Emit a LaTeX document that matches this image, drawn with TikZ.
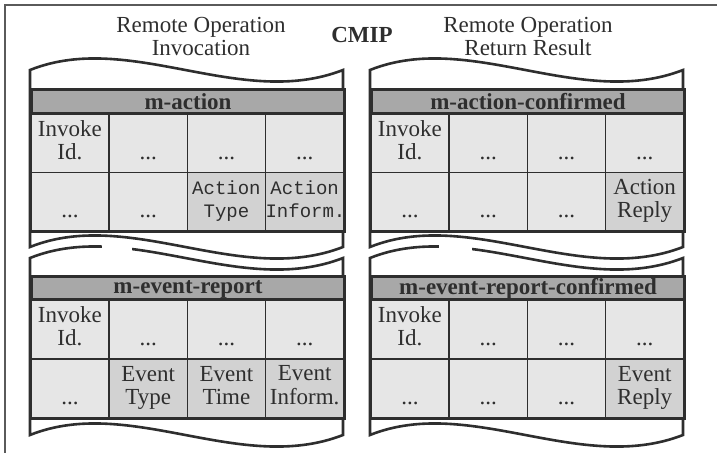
\documentclass[tikz,border=0pt]{standalone}
\usepackage{fontspec}
\setmainfont{Liberation Serif}
\setmonofont{Liberation Mono}
\usepackage{xcolor}

\definecolor{inkgray}{HTML}{2E2E2E}
\definecolor{barfill}{HTML}{A8A8A8}
\definecolor{cellfill}{HTML}{E6E6E6}
\definecolor{keyfill}{HTML}{D2D2D2}
\definecolor{framegray}{HTML}{5A5A5A}

\newcommand{\celltext}[2]{\strut#1\\#2\strut}

\tikzset{
  outerline/.style={draw=framegray, line width=2pt},
  panel/.style={draw=inkgray, line width=2.6pt, fill=white},
  thickrule/.style={draw=inkgray, line width=3pt},
  titlebar/.style={draw=inkgray, line width=3pt, fill=barfill, anchor=north west,
    minimum width=313pt, minimum height=25pt, inner sep=0pt,
    font=\bfseries\fontsize{23}{23}\selectfont, text=inkgray},
  cell/.style={draw=inkgray, line width=1.6pt, fill=cellfill, anchor=north west,
    text width=78.25pt, minimum height=58.5pt, inner sep=0pt, align=center,
    font=\fontsize{23}{23}\selectfont, text=inkgray},
  keycell/.style={cell, fill=keyfill},
  codecell/.style={keycell, font=\ttfamily\fontsize{19}{23}\selectfont},
  head/.style={align=center, font=\fontsize{23}{23}\selectfont, text=inkgray},
}

\begin{document}
\begin{tikzpicture}[x=1pt, y=-1pt]
  \useasboundingbox (0,0) rectangle (717,453);
  \draw[outerline] (717,5) -- (5,5) -- (5,453);

  % headings
  \node[head] (inv) at (201,36.5) {Remote Operation\\Invocation};
  \node[head, font=\bfseries\fontsize{23}{23}\selectfont] (cmip) at (362,35) {CMIP};
  \node[head] (res) at (528,36.5) {Remote Operation\\Return Result};

  % m-action
  \draw[panel] (30,70) .. controls (130,30) and (240,110) .. (343,70) -- (343,247)
    .. controls (240,287) and (130,207) .. (30,247) -- cycle;
  \node[titlebar] (ma) at (30,88) {m-action};
  \node[cell] (ma11) at (30,113) {\celltext{Invoke}{Id.}};
  \node[cell] (ma12) at (108.25,113) {\celltext{}{...}};
  \node[cell] (ma13) at (186.5,113) {\celltext{}{...}};
  \node[cell] (ma14) at (264.75,113) {\celltext{}{...}};
  \node[cell] (ma21) at (30,171.5) {\celltext{}{...}};
  \node[cell] (ma22) at (108.25,171.5) {\celltext{}{...}};
  \node[codecell] (ma23) at (186.5,171.5) {\celltext{Action}{Type}};
  \node[codecell] (ma24) at (264.75,171.5) {\celltext{Action}{Inform.}};
  \draw[thickrule] (ma11.north west) rectangle (ma24.south east);

  % m-action-confirmed
  \draw[panel] (370,70) .. controls (470,30) and (580,110) .. (683,70) -- (683,247)
    .. controls (580,287) and (470,207) .. (370,247) -- cycle;
  \node[titlebar] (mac) at (370,88) {m-action-confirmed};
  \node[cell] (mac11) at (370,113) {\celltext{Invoke}{Id.}};
  \node[cell] (mac12) at (448.25,113) {\celltext{}{...}};
  \node[cell] (mac13) at (526.5,113) {\celltext{}{...}};
  \node[cell] (mac14) at (604.75,113) {\celltext{}{...}};
  \node[cell] (mac21) at (370,171.5) {\celltext{}{...}};
  \node[cell] (mac22) at (448.25,171.5) {\celltext{}{...}};
  \node[cell] (mac23) at (526.5,171.5) {\celltext{}{...}};
  \node[keycell] (mac24) at (604.75,171.5) {\celltext{Action}{Reply}};
  \draw[thickrule] (mac11.north west) rectangle (mac24.south east);

  % m-event-report
  \draw[panel] (30,258) .. controls (130,218) and (240,298) .. (343,258) -- (343,435)
    .. controls (240,475) and (130,395) .. (30,435) -- cycle;
  \fill[white] (102,241) rectangle (132,254);
  \node[titlebar] (mer) at (30,275) {m-event-report};
  \node[cell] (mer11) at (30,299) {\celltext{Invoke}{Id.}};
  \node[cell] (mer12) at (108.25,299) {\celltext{}{...}};
  \node[cell] (mer13) at (186.5,299) {\celltext{}{...}};
  \node[cell] (mer14) at (264.75,299) {\celltext{}{...}};
  \node[cell] (mer21) at (30,358) {\celltext{}{...}};
  \node[keycell] (mer22) at (108.25,358) {\celltext{Event}{Type}};
  \node[keycell] (mer23) at (186.5,358) {\celltext{Event}{Time}};
  \node[keycell] (mer24) at (264.75,358) {\celltext{Event}{Inform.}};
  \draw[thickrule] (mer11.north west) rectangle (mer24.south east);

  % m-event-report-confirmed
  \draw[panel] (370,258) .. controls (470,218) and (580,298) .. (683,258) -- (683,435)
    .. controls (580,475) and (470,395) .. (370,435) -- cycle;
  \fill[white] (439,241) rectangle (472,254);
  \node[titlebar] (merc) at (370,275) {m-event-report-confirmed};
  \node[cell] (merc11) at (370,299) {\celltext{Invoke}{Id.}};
  \node[cell] (merc12) at (448.25,299) {\celltext{}{...}};
  \node[cell] (merc13) at (526.5,299) {\celltext{}{...}};
  \node[cell] (merc14) at (604.75,299) {\celltext{}{...}};
  \node[cell] (merc21) at (370,358) {\celltext{}{...}};
  \node[cell] (merc22) at (448.25,358) {\celltext{}{...}};
  \node[cell] (merc23) at (526.5,358) {\celltext{}{...}};
  \node[keycell] (merc24) at (604.75,358) {\celltext{Event}{Reply}};
  \draw[thickrule] (merc11.north west) rectangle (merc24.south east);
\end{tikzpicture}
\end{document}
